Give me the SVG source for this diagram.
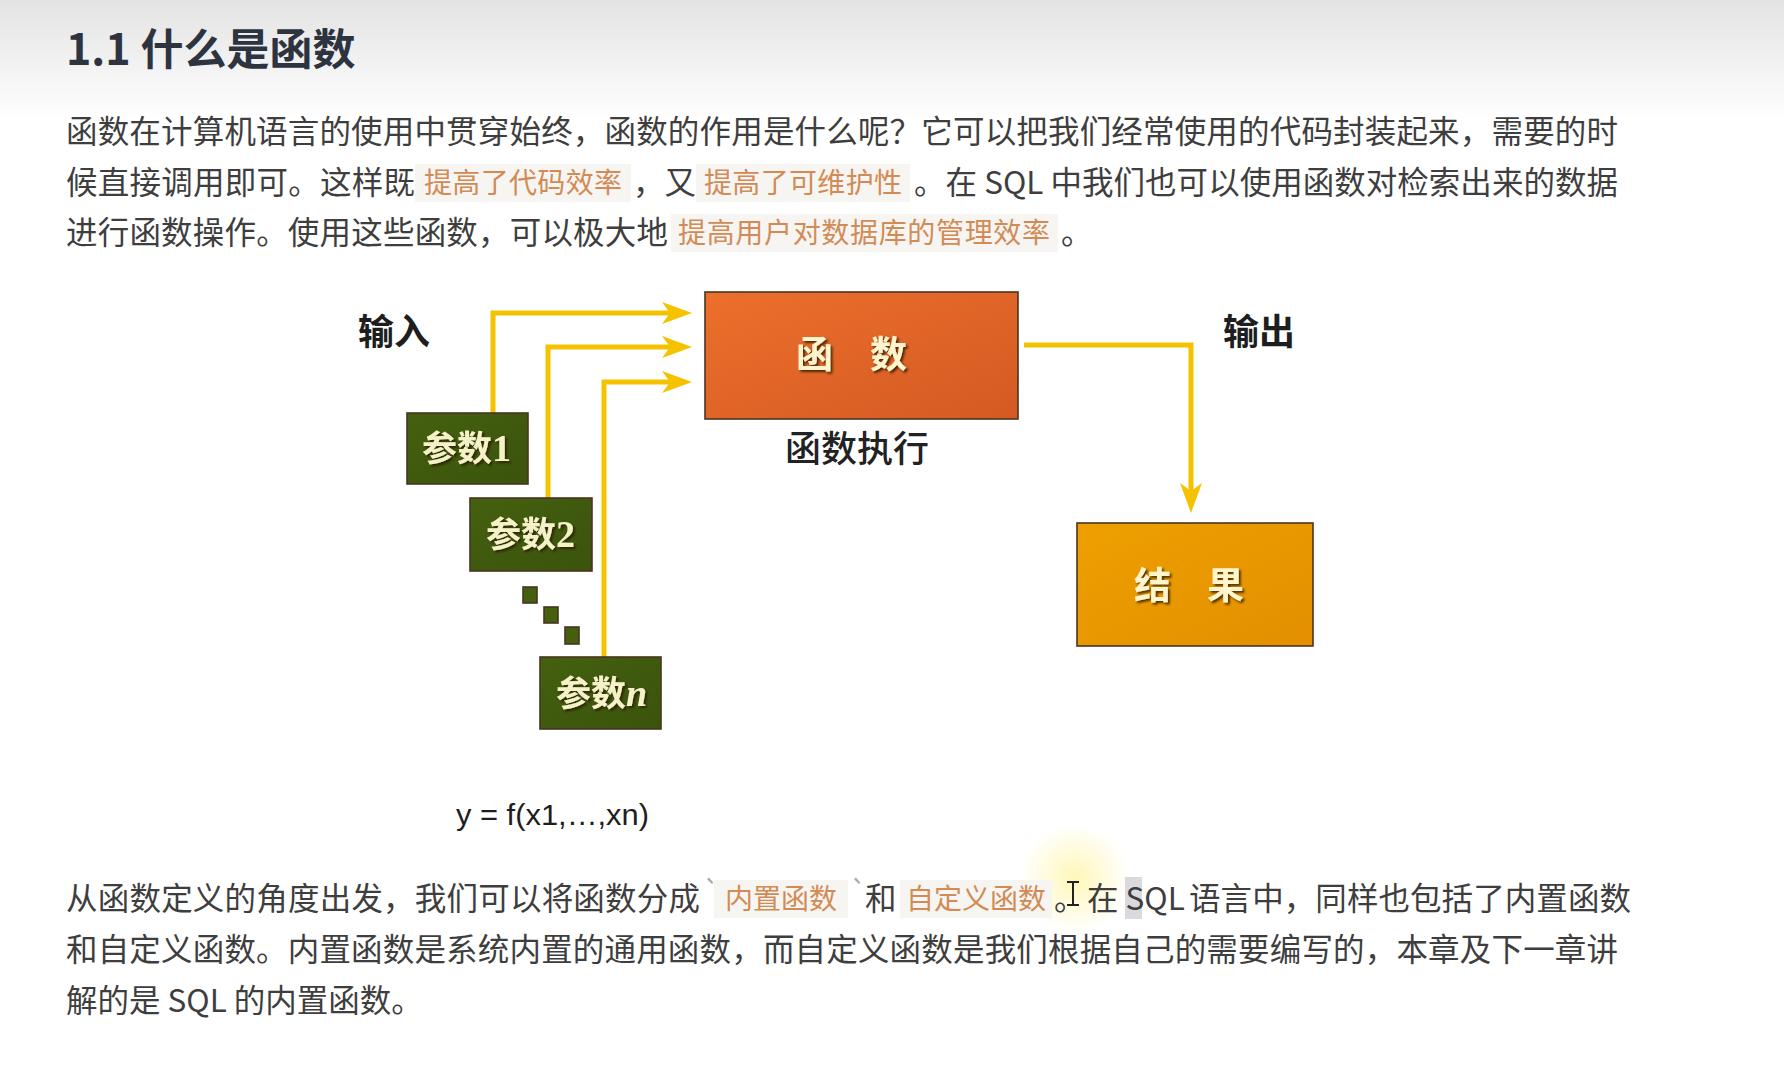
<svg xmlns="http://www.w3.org/2000/svg" width="1784" height="1065" viewBox="0 0 1784 1065">
<defs>
<linearGradient id="hdr" x1="0" y1="0" x2="0" y2="1"><stop offset="0" stop-color="#e3e3e3"/><stop offset="1" stop-color="#ffffff"/></linearGradient>
<linearGradient id="gFunc" x1="0" y1="0" x2="1" y2="1"><stop offset="0" stop-color="#ec6f2c"/><stop offset="1" stop-color="#d45a22"/></linearGradient>
<linearGradient id="gRes" x1="0" y1="0" x2="1" y2="1"><stop offset="0" stop-color="#eea000"/><stop offset="1" stop-color="#e38f00"/></linearGradient>
<linearGradient id="gPar" x1="0" y1="0" x2="1" y2="1"><stop offset="0" stop-color="#44600f"/><stop offset="1" stop-color="#3a540c"/></linearGradient>
<radialGradient id="glow"><stop offset="0" stop-color="#fff6b0" stop-opacity="0.9"/><stop offset="1" stop-color="#fff6b0" stop-opacity="0"/></radialGradient>
<filter id="sh" x="-20%" y="-20%" width="140%" height="140%"><feDropShadow dx="2" dy="2" stdDeviation="1" flood-color="#2a1a00" flood-opacity="0.8"/></filter>
<marker id="ah" markerUnits="userSpaceOnUse" markerWidth="30" markerHeight="22" refX="10" refY="11" orient="auto"><path d="M0,0 L30,11 L0,22 L8,11 z" fill="#f5c200"/></marker>
<style>
.body{font-family:"Noto Sans CJK SC","Noto Sans",sans-serif;font-size:31.5px;fill:#3e3e3e}
.code{font-family:"Noto Sans CJK SC","Noto Sans",sans-serif;font-size:28px;fill:#d28b55}
.hl{fill:#f6f5f2}
.tick{font-family:"Noto Sans CJK SC",sans-serif;font-size:28px;fill:#aaaaaa}
.lbl{font-family:"Noto Sans CJK SC",sans-serif;font-size:36px;font-weight:700;fill:#1e1e1e}
.box{stroke:#4a3422;stroke-width:1.6}
.bt{font-family:"Noto Sans CJK SC",sans-serif;font-size:37px;font-weight:700;fill:#fff4cc;filter:url(#sh)}
.pt{font-family:"Noto Sans CJK SC",sans-serif;font-size:35px;font-weight:700;fill:#f6f2c8;filter:url(#sh)}
.arr{fill:none;stroke:#f5c200;stroke-width:5;stroke-linejoin:miter}
</style>
</defs>
<rect x="0" y="0" width="1784" height="1065" fill="#ffffff"/>
<rect x="0" y="0" width="1784" height="120" fill="url(#hdr)"/>

<text x="66" y="65" font-family="Noto Sans CJK SC,sans-serif" font-size="43" font-weight="700" fill="#2d3440">1.1 什么是函数</text>

<g id="para1">
<text class="body" x="66" y="143" textLength="1552" lengthAdjust="spacing">函数在计算机语言的使用中贯穿始终，函数的作用是什么呢？它可以把我们经常使用的代码封装起来，需要的时</text>
<text class="body" x="66" y="194" textLength="349" lengthAdjust="spacing">候直接调用即可。这样既</text>
<rect class="hl" x="415" y="164" width="216" height="38"/>
<text class="code" x="424" y="193" textLength="198" lengthAdjust="spacing">提高了代码效率</text>
<text class="body" x="633" y="194">，又</text>
<rect class="hl" x="696" y="164" width="214" height="38"/>
<text class="code" x="704" y="193" textLength="198" lengthAdjust="spacing">提高了可维护性</text>
<text class="body" x="914" y="194" textLength="704" lengthAdjust="spacing">。在 SQL 中我们也可以使用函数对检索出来的数据</text>
<text class="body" x="66" y="244" textLength="602" lengthAdjust="spacing">进行函数操作。使用这些函数，可以极大地</text>
<rect class="hl" x="671" y="214" width="387" height="38"/>
<text class="code" x="678" y="243" textLength="372" lengthAdjust="spacing">提高用户对数据库的管理效率</text>
<text class="body" x="1061" y="244">。</text>
</g>

<g id="connectors">
<path class="arr" d="M493,413 V313 H672" marker-end="url(#ah)"/>
<path class="arr" d="M548,498 V347 H672" marker-end="url(#ah)"/>
<path class="arr" d="M604,657 V382 H672" marker-end="url(#ah)"/>
<path class="arr" d="M1024,345 H1191 V493" marker-end="url(#ah)"/>
</g>

<g id="label-input"><text class="lbl" x="358" y="345">输入</text></g>
<g id="label-output"><text class="lbl" x="1223" y="345">输出</text></g>

<g id="node-func">
<rect class="box" x="705" y="292" width="313" height="127" fill="url(#gFunc)"/>
<text class="bt" x="796" y="368">函</text>
<text class="bt" x="870" y="368">数</text>
</g>
<g id="label-exec"><text x="785" y="462" font-family="Noto Sans CJK SC,sans-serif" font-size="36" font-weight="500" fill="#222222">函数执行</text></g>

<g id="node-result">
<rect class="box" x="1077" y="523" width="236" height="123" fill="url(#gRes)"/>
<text class="bt" x="1134" y="599">结</text>
<text class="bt" x="1207" y="599">果</text>
</g>

<g id="node-p1">
<rect class="box" x="407" y="413" width="121" height="71" fill="url(#gPar)"/>
<text class="pt" x="422" y="461">参数<tspan font-family="Liberation Serif,serif" font-size="38">1</tspan></text>
</g>
<g id="node-p2">
<rect class="box" x="470" y="498" width="122" height="73" fill="url(#gPar)"/>
<text class="pt" x="486" y="547">参数<tspan font-family="Liberation Serif,serif" font-size="38">2</tspan></text>
</g>
<g id="node-dots">
<rect class="box" x="523" y="587" width="14" height="16" fill="#44600f"/>
<rect class="box" x="544" y="607" width="14" height="16" fill="#44600f"/>
<rect class="box" x="565" y="627" width="14" height="17" fill="#44600f"/>
</g>
<g id="node-pn">
<rect class="box" x="540" y="657" width="121" height="72" fill="url(#gPar)"/>
<text class="pt" x="556" y="706">参数<tspan font-style="italic" font-family="Liberation Serif,serif" font-size="38">n</tspan></text>
</g>

<g id="formula"><text x="456" y="825" font-family="Liberation Sans,Arial,sans-serif" font-size="30" fill="#1e1e1e" textLength="193" lengthAdjust="spacingAndGlyphs">y = f(x1,…,xn)</text></g>

<g id="para2">
<circle cx="1075" cy="878" r="55" fill="url(#glow)"/>
<text class="body" x="66" y="910" textLength="634" lengthAdjust="spacing">从函数定义的角度出发，我们可以将函数分成</text>
<text class="tick" x="703" y="902">`</text>
<rect class="hl" x="714" y="880" width="134" height="38"/>
<text class="code" x="725" y="909" textLength="112" lengthAdjust="spacing">内置函数</text>
<text class="tick" x="850" y="902">`</text>
<text class="body" x="865" y="910">和</text>
<rect class="hl" x="900" y="880" width="152" height="38"/>
<text class="code" x="906" y="909" textLength="140" lengthAdjust="spacing">自定义函数</text>
<text class="body" x="1054" y="910">。</text>
<path d="M1067,882 H1079 M1073,882 V905 M1067,905 H1079" stroke="#222" stroke-width="2" fill="none"/>
<rect x="1125" y="877" width="17" height="42" fill="#d9d9de"/>
<text class="body" x="1087" y="910">在 SQL</text>
<text class="body" x="1189" y="910" textLength="442" lengthAdjust="spacing">语言中，同样也包括了内置函数</text>
<text class="body" x="66" y="961" textLength="1552" lengthAdjust="spacing">和自定义函数。内置函数是系统内置的通用函数，而自定义函数是我们根据自己的需要编写的，本章及下一章讲</text>
<text class="body" x="66" y="1012">解的是 SQL 的内置函数。</text>
</g>
</svg>
